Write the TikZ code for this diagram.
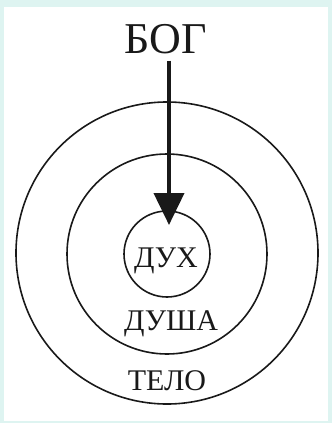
\documentclass[tikz,border=0pt]{standalone}
\usepackage{fontspec}
\setmainfont{Liberation Serif}
\definecolor{frameCyan}{RGB}{222,244,241}
\definecolor{inkDark}{RGB}{25,25,25}
\usetikzlibrary{arrows.meta}

\begin{document}
\begin{tikzpicture}[
    x=1pt, y=-1pt,
    ring/.style={circle, draw=inkDark, line width=1.6pt, inner sep=0pt},
    label/.style={anchor=base, inner sep=0pt, text=inkDark, font=\fontsize{30}{30}\selectfont},
    arrow/.style={-{Triangle[length=32pt, width=30pt]}, line width=4pt, inkDark}
]
    % Frame
    \fill[frameCyan] (0,0) rectangle (332,423);
    \fill[white] (4,7) rectangle (328,421);

    % Nodes
    \node[ring, minimum size=302pt] (telo) at (167,253) {};
    \node[ring, minimum size=200pt] (dusha) at (167,254) {};
    \node[ring, minimum size=86pt] (dukh) at (167,254) {};
    \node[label, font=\fontsize{44}{44}\selectfont] (bog) at (166,53) {БОГ};
    \node[label] (dukhtext) at (166,267) {ДУХ};
    \node[label] (dushatext) at (171,330) {ДУША};
    \node[label] (telotext) at (167,390) {ТЕЛО};
    \coordinate (tip) at (169,225);

    % Connections
    \draw[arrow] (bog.south -| tip) ++(0,7) -- (tip);

\end{tikzpicture}
\end{document}
